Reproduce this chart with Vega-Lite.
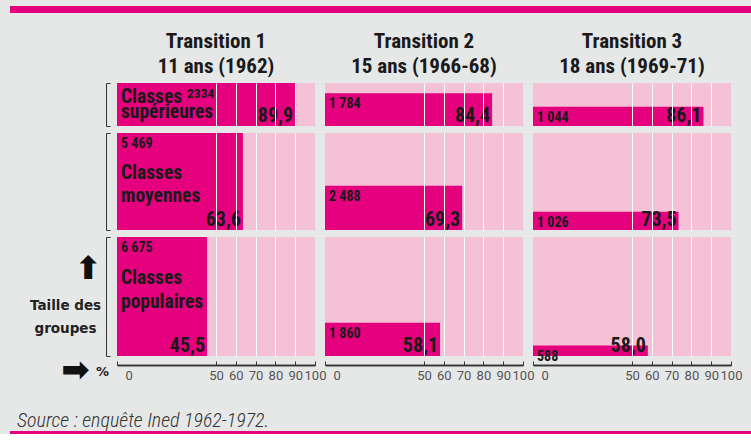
{
  "$schema": "https://vega.github.io/schema/vega-lite/v6.json",
  "background": "#e6e7e7",
  "padding": {"left": 10, "top": 6, "right": 0, "bottom": 0},
  "spacing": 5,
  "datasets": {
    "d": [
      {"k": 1, "t": "Transition 1|11 ans (1962)", "c": "sup", "n": 2334, "p": 89.9, "cl": "Classes|supérieures"},
      {"k": 1, "t": "Transition 1|11 ans (1962)", "c": "moy", "n": 5469, "p": 63.6, "cl": "Classes|moyennes"},
      {"k": 1, "t": "Transition 1|11 ans (1962)", "c": "pop", "n": 6675, "p": 45.5, "cl": "Classes|populaires"},
      {"k": 2, "t": "Transition 2|15 ans (1966-68)", "c": "sup", "n": 1784, "p": 84.4, "cl": ""},
      {"k": 2, "t": "Transition 2|15 ans (1966-68)", "c": "moy", "n": 2488, "p": 69.3, "cl": ""},
      {"k": 2, "t": "Transition 2|15 ans (1966-68)", "c": "pop", "n": 1860, "p": 58.1, "cl": ""},
      {"k": 3, "t": "Transition 3|18 ans (1969-71)", "c": "sup", "n": 1044, "p": 86.1, "cl": ""},
      {"k": 3, "t": "Transition 3|18 ans (1969-71)", "c": "moy", "n": 1026, "p": 73.5, "cl": ""},
      {"k": 3, "t": "Transition 3|18 ans (1969-71)", "c": "pop", "n": 588, "p": 58.0, "cl": ""}
    ]
  },
  "vconcat": [
    {
      "width": 614, "height": 7,
      "data": {"values": [{}]},
      "mark": {"type": "rect", "color": "#e5007d"},
      "encoding": {
        "x": {"datum": 0, "type": "quantitative", "scale": {"domain": [0, 1], "range": [-107, 634]}, "axis": null},
        "x2": {"datum": 1}
      },
      "title": {"text": " ", "orient": "bottom", "fontSize": 13, "offset": 0}
    },
    {
      "data": {"name": "d"},
      "transform": [{"filter": "datum.c == 'sup'"}],
      "facet": {"column": {"field": "t", "type": "nominal", "header": {
        "title": null, "labelExpr": "split(datum.value, '|')", "labelFont": "Roboto Condensed",
        "labelFontSize": 21, "labelFontWeight": "bold", "labelColor": "#1a1a1a", "labelLineHeight": 25, "labelPadding": 6}}},
      "spacing": 10,
      "bounds": "flush",
      "spec": {
        "width": 198, "height": 43,
        "view": {"fill": "#f5c1d6", "stroke": null},
        "layer": [
          {
            "mark": {"type": "rect", "color": "#e5007d"},
            "encoding": {
              "x": {"field": "p", "type": "quantitative", "scale": {"domain": [0, 100]},
                "axis": {"values": [50, 60, 70, 80, 90], "grid": true, "gridColor": "white", "gridWidth": 1, "labels": false, "ticks": false, "domain": false, "title": null, "zindex": 1}},
              "x2": {"datum": 0},
              "y": {"field": "n", "type": "quantitative", "scale": {"nice": false, "zero": true},
                "axis": {"values": [0, 2334], "grid": false, "labels": false, "title": null, "domain": true, "domainColor": "#333", "ticks": true, "tickSize": -4, "tickColor": "#333", "offset": 11}},
              "y2": {"datum": 0}
            }
          },
          {
            "transform": [{"filter": "datum.k != 1"}],
            "mark": {"type": "text", "align": "left", "baseline": "top", "dx": 4, "dy": 4, "fontSize": 14},
            "encoding": {"x": {"datum": 0}, "y": {"field": "n", "type": "quantitative"}, "text": {"field": "n", "type": "quantitative", "format": ","}}
          },
          {
            "transform": [{"filter": "datum.k == 1"}],
            "mark": {"type": "text", "align": "left", "baseline": "top", "dx": 70, "dy": 4, "fontSize": 13.5},
            "encoding": {"x": {"datum": 0}, "y": {"field": "n", "type": "quantitative"}, "text": {"field": "n", "type": "quantitative", "format": "d"}}
          },
          {
            "transform": [{"filter": "datum.k == 1"}],
            "mark": {"type": "text", "align": "left", "baseline": "top", "dx": 4, "dy": 5, "fontSize": 19.5, "lineBreak": "|", "lineHeight": 15},
            "encoding": {"x": {"datum": 0}, "y": {"field": "n", "type": "quantitative"}, "text": {"field": "cl", "type": "nominal"}}
          },
          {
            "mark": {"type": "text", "align": "right", "baseline": "alphabetic", "dx": -2, "dy": -4, "fontSize": 20},
            "encoding": {"x": {"field": "p", "type": "quantitative"}, "y": {"datum": 0}, "text": {"field": "p", "type": "quantitative", "format": ",.1f"}}
          }
        ]
      }
    },
    {
      "data": {"name": "d"},
      "transform": [{"filter": "datum.c == 'moy'"}],
      "facet": {"column": {"field": "t", "type": "nominal", "header": {"title": null, "labels": false}}},
      "spacing": 10,
      "bounds": "flush",
      "spec": {
        "width": 198, "height": 97,
        "view": {"fill": "#f5c1d6", "stroke": null},
        "layer": [
          {
            "mark": {"type": "rect", "color": "#e5007d"},
            "encoding": {
              "x": {"field": "p", "type": "quantitative", "scale": {"domain": [0, 100]},
                "axis": {"values": [50, 60, 70, 80, 90], "grid": true, "gridColor": "white", "gridWidth": 1, "labels": false, "ticks": false, "domain": false, "title": null, "zindex": 1}},
              "x2": {"datum": 0},
              "y": {"field": "n", "type": "quantitative", "scale": {"nice": false, "zero": true},
                "axis": {"values": [0, 5469], "grid": false, "labels": false, "title": null, "domain": true, "domainColor": "#333", "ticks": true, "tickSize": -4, "tickColor": "#333", "offset": 11}},
              "y2": {"datum": 0}
            }
          },
          {
            "mark": {"type": "text", "align": "left", "baseline": "top", "dx": 4, "dy": 4, "fontSize": 14},
            "encoding": {"x": {"datum": 0}, "y": {"field": "n", "type": "quantitative"}, "text": {"field": "n", "type": "quantitative", "format": ","}}
          },
          {
            "transform": [{"filter": "datum.k == 1"}],
            "mark": {"type": "text", "align": "left", "baseline": "top", "dx": 4, "dy": 31, "fontSize": 19.5, "lineBreak": "|", "lineHeight": 23},
            "encoding": {"x": {"datum": 0}, "y": {"field": "n", "type": "quantitative"}, "text": {"field": "cl", "type": "nominal"}}
          },
          {
            "mark": {"type": "text", "align": "right", "baseline": "alphabetic", "dx": -2, "dy": -4, "fontSize": 20},
            "encoding": {"x": {"field": "p", "type": "quantitative"}, "y": {"datum": 0}, "text": {"field": "p", "type": "quantitative", "format": ",.1f"}}
          }
        ]
      }
    },
    {
      "data": {"name": "d"},
      "transform": [{"filter": "datum.c == 'pop'"}],
      "facet": {"column": {"field": "t", "type": "nominal", "header": {"title": null, "labels": false}}},
      "spacing": 10,
      "bounds": "flush",
      "spec": {
        "width": 198, "height": 119,
        "view": {"fill": "#f5c1d6", "stroke": null},
        "resolve": {"axis": {"x": "independent", "y": "independent"}},
        "layer": [
          {
            "mark": {"type": "rect", "color": "#e5007d"},
            "encoding": {
              "x": {"field": "p", "type": "quantitative", "scale": {"domain": [0, 100]},
                "axis": {"orient": "bottom", "values": [0, 50, 70, 90], "grid": true, "gridColor": "white", "gridWidth": 1,
                  "gridOpacity": {"condition": {"test": "datum.value == 0", "value": 0}, "value": 1},
                  "domain": true, "domainColor": "#333", "domainWidth": 1.5, "ticks": true, "tickSize": -4, "tickColor": "#333",
                  "offset": 9, "labels": true, "labelFlush": false, "labelFont": "Roboto", "labelFontSize": 13, "labelColor": "#555", "labelPadding": 8,
                  "labelAlign": {"condition": {"test": "datum.value == 0", "value": "left"}, "value": "center"},
                  "labelOffset": {"condition": {"test": "datum.value == 0", "value": 8}, "value": 0},
                  "title": null, "zindex": 1}},
              "x2": {"datum": 0},
              "y": {"field": "n", "type": "quantitative", "scale": {"nice": false, "zero": true},
                "axis": {"orient": "left", "values": [0, 6675], "grid": false, "labels": false, "title": null, "domain": true, "domainColor": "#333", "ticks": true, "tickSize": -4, "tickColor": "#333", "offset": 11}},
              "y2": {"datum": 0}
            }
          },
          {
            "mark": {"type": "text", "align": "left", "baseline": "top", "dx": 4, "dy": 4, "fontSize": 14},
            "encoding": {"x": {"datum": 0, "axis": null}, "y": {"field": "n", "type": "quantitative",
              "axis": {"orient": "left", "grid": false, "domain": false, "ticks": false, "labels": false, "offset": 0,
                "title": ["Taille des", "groupes"], "titleAngle": 0, "titleAlign": "center", "titleBaseline": "alphabetic",
                "titleX": -52, "titleY": 72, "titleFont": "DejaVu Sans", "titleFontSize": 13.5, "titleFontWeight": "bold", "titleColor": "#222", "titleLineHeight": 23}},
              "text": {"field": "n", "type": "quantitative", "format": ","}}
          },
          {
            "transform": [{"filter": "datum.k == 1"}],
            "mark": {"type": "text", "align": "left", "baseline": "top", "dx": 4, "dy": 32, "fontSize": 19.5, "lineBreak": "|", "lineHeight": 24},
            "encoding": {"x": {"datum": 0, "axis": null}, "y": {"field": "n", "type": "quantitative",
              "axis": {"orient": "left", "grid": false, "domain": false, "ticks": false, "labels": false, "offset": 0,
                "title": "⬆", "titleAngle": 0, "titleAlign": "center", "titleBaseline": "middle",
                "titleX": -29, "titleY": 31, "titleFont": "DejaVu Sans", "titleFontSize": 32, "titleColor": "#111"}},
              "text": {"field": "cl", "type": "nominal"}}
          },
          {
            "transform": [{"filter": "datum.k == 3"}],
            "mark": {"type": "text", "text": "", "baseline": "bottom"},
            "encoding": {"x": {"datum": 0, "axis": null}, "y": {"field": "n", "type": "quantitative",
              "axis": {"orient": "left", "grid": false, "domain": false, "ticks": false, "labels": false, "offset": 0,
                "title": "➡", "titleAngle": 0, "titleAlign": "center", "titleBaseline": "middle",
                "titleX": -42, "titleY": 133, "titleFont": "DejaVu Sans", "titleFontSize": 34, "titleColor": "#111"}}}
          },
          {
            "transform": [{"filter": "datum.k == 3"}],
            "mark": {"type": "text", "text": "", "baseline": "bottom"},
            "encoding": {"x": {"datum": 0, "axis": null}, "y": {"field": "n", "type": "quantitative",
              "axis": {"orient": "left", "grid": false, "domain": false, "ticks": false, "labels": false, "offset": 0,
                "title": "%", "titleAngle": 0, "titleAlign": "center", "titleBaseline": "middle",
                "titleX": -15, "titleY": 134, "titleFont": "DejaVu Sans", "titleFontSize": 13, "titleFontWeight": "bold", "titleColor": "#222"}}}
          },
          {
            "mark": {"type": "text", "align": "right", "baseline": "alphabetic", "dx": -2, "dy": -4, "fontSize": 20},
            "encoding": {"x": {"field": "p", "type": "quantitative",
                "axis": {"orient": "bottom", "values": [60, 80, 100], "grid": true, "gridColor": "white", "gridWidth": 1,
                  "gridOpacity": {"condition": {"test": "datum.value == 100", "value": 0}, "value": 1},
                  "domain": true, "domainColor": "#333", "domainWidth": 1.5, "ticks": true, "tickSize": -4, "tickColor": "#333",
                  "offset": 9, "labels": true, "labelFlush": false, "labelFont": "Roboto", "labelFontSize": 13, "labelColor": "#555", "labelPadding": 8,
                  "title": null, "zindex": 1}},
              "y": {"datum": 0, "axis": null}, "text": {"field": "p", "type": "quantitative", "format": ",.1f"}}
          }
        ]
      }
    },
    {
      "width": 614, "height": 3,
      "data": {"values": [{}]},
      "mark": {"type": "rect", "color": "#e5007d"},
      "encoding": {
        "x": {"datum": 0, "type": "quantitative", "scale": {"domain": [0, 1], "range": [-107, 634]}, "axis": null},
        "x2": {"datum": 1}
      },
      "title": {"text": ["", "Source : enquête Ined 1962-1972."], "orient": "top", "anchor": "start", "frame": "bounds", "dx": 7,
        "font": "Roboto Condensed", "fontSize": 20, "fontStyle": "italic", "fontWeight": 300, "color": "#333", "lineHeight": 19, "offset": 0}
    }
  ],
  "config": {
    "view": {"stroke": null},
    "locale": {"number": {"decimal": ",", "thousands": " ", "grouping": [3], "currency": ["", " €"]}},
    "text": {"font": "Roboto Condensed", "fontWeight": "bold", "color": "#1a1a1a"}
  }
}
